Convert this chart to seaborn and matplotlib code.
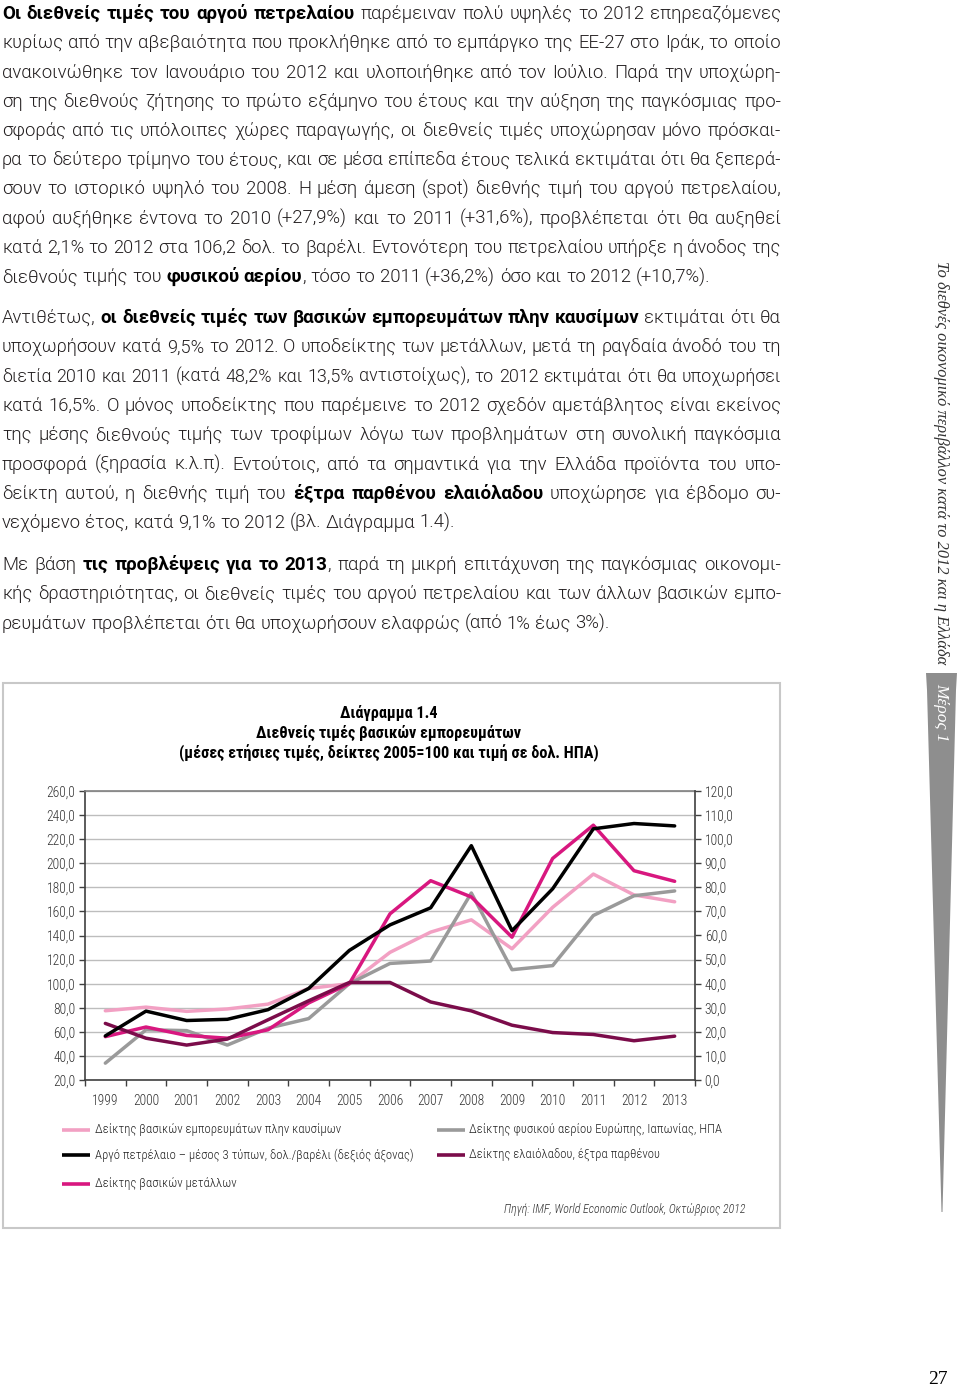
import numpy as np
import pandas as pd
import matplotlib
matplotlib.use("Agg")
import matplotlib.pyplot as plt
import seaborn as sns
from matplotlib import font_manager as fm
from matplotlib.lines import Line2D
from matplotlib.patches import Rectangle, Polygon
from matplotlib.ticker import FuncFormatter

# ---------------- data ----------------
years = list(range(1999, 2014))
nonfuel = [77.5, 80.5, 77.0, 79.0, 83.0, 96.0, 100.0, 126.0, 142.8, 153.0, 129.0, 163.4, 191.0, 173.7, 168.0]
gas = [34.0, 61.7, 61.0, 49.0, 63.0, 71.0, 100.0, 116.8, 118.8, 175.3, 111.6, 115.0, 156.6, 173.0, 177.0]
metals = [56.0, 64.0, 57.0, 54.7, 61.7, 84.0, 100.0, 158.0, 185.5, 172.0, 138.6, 204.0, 231.6, 193.8, 185.0]
olive = [67.0, 54.7, 49.0, 54.0, 70.0, 85.8, 101.0, 101.0, 84.8, 77.4, 65.5, 59.4, 57.8, 52.6, 56.4]
oil = [18.3, 28.6, 24.7, 25.2, 29.2, 38.0, 53.8, 64.4, 71.5, 97.3, 62.0, 79.4, 104.3, 106.5, 105.5]

L_nonfuel = "Δείκτης βασικών εμπορευμάτων πλην καυσίμων"
L_oil = "Αργό πετρέλαιο – μέσος 3 τύπων, δολ./βαρέλι (δεξιός άξονας)"
L_metals = "Δείκτης βασικών μετάλλων"
L_gas = "Δείκτης φυσικού αερίου Ευρώπης, Ιαπωνίας, ΗΠΑ"
L_olive = "Δείκτης ελαιόλαδου, έξτρα παρθένου"

left_ticks = list(range(20, 261, 20))
right_ticks = list(range(0, 121, 10))

title_lines = ["Διάγραμμα 1.4",
               "Διεθνείς τιμές βασικών εμπορευμάτων",
               "(μέσες ετήσιες τιμές, δείκτες 2005=100 και τιμή σε δολ. ΗΠΑ)"]
source_text = "Πηγή: IMF, World Economic Outlook, Οκτώβριος 2012"
side_text = "Το διεθνές οικονομικό περιβάλλον κατά το 2012 και η Ελλάδα"
part_text = "Μέρος 1"
page_no = "27"

par1 = [
    "*Οι διεθνείς τιμές του αργού πετρελαίου* παρέμειναν πολύ υψηλές το 2012 επηρεαζόμενες",
    "κυρίως από την αβεβαιότητα που προκλήθηκε από το εμπάργκο της ΕΕ-27 στο Ιράκ, το οποίο",
    "ανακοινώθηκε τον Ιανουάριο του 2012 και υλοποιήθηκε από τον Ιούλιο. Παρά την υποχώρη-",
    "ση της διεθνούς ζήτησης το πρώτο εξάμηνο του έτους και την αύξηση της παγκόσμιας προ-",
    "σφοράς από τις υπόλοιπες χώρες παραγωγής, οι διεθνείς τιμές υποχώρησαν μόνο πρόσκαι-",
    "ρα το δεύτερο τρίμηνο του έτους, και σε μέσα επίπεδα έτους τελικά εκτιμάται ότι θα ξεπερά-",
    "σουν το ιστορικό υψηλό του 2008. Η μέση άμεση (spot) διεθνής τιμή του αργού πετρελαίου,",
    "αφού αυξήθηκε έντονα το 2010 (+27,9%) και το 2011 (+31,6%), προβλέπεται ότι θα αυξηθεί",
    "κατά 2,1% το 2012 στα 106,2 δολ. το βαρέλι. Εντονότερη του πετρελαίου υπήρξε η άνοδος της",
    "διεθνούς τιμής του *φυσικού αερίου*, τόσο το 2011 (+36,2%) όσο και το 2012 (+10,7%).",
]
par2 = [
    "Αντιθέτως, *οι διεθνείς τιμές των βασικών εμπορευμάτων πλην καυσίμων* εκτιμάται ότι θα",
    "υποχωρήσουν κατά 9,5% το 2012. Ο υποδείκτης των μετάλλων, μετά τη ραγδαία άνοδό του τη",
    "διετία 2010 και 2011 (κατά 48,2% και 13,5% αντιστοίχως), το 2012 εκτιμάται ότι θα υποχωρήσει",
    "κατά 16,5%. Ο μόνος υποδείκτης που παρέμεινε το 2012 σχεδόν αμετάβλητος είναι εκείνος",
    "της μέσης διεθνούς τιμής των τροφίμων λόγω των προβλημάτων στη συνολική παγκόσμια",
    "προσφορά (ξηρασία κ.λ.π). Εντούτοις, από τα σημαντικά για την Ελλάδα προϊόντα του υπο-",
    "δείκτη αυτού, η διεθνής τιμή του *έξτρα παρθένου ελαιόλαδου* υποχώρησε για έβδομο συ-",
    "νεχόμενο έτος, κατά 9,1% το 2012 (βλ. Διάγραμμα 1.4).",
]
par3 = [
    "Με βάση *τις προβλέψεις για το 2013*, παρά τη μικρή επιτάχυνση της παγκόσμιας οικονομι-",
    "κής δραστηριότητας, οι διεθνείς τιμές του αργού πετρελαίου και των άλλων βασικών εμπο-",
    "ρευμάτων προβλέπεται ότι θα υποχωρήσουν ελαφρώς (από 1% έως 3%).",
]

# ---------------- fonts ----------------
sns.set_style("white")


def has_font(name):
    try:
        path = fm.findfont(fm.FontProperties(family=name), fallback_to_default=False)
        return path is not None
    except Exception:
        return False


def has_light(name):
    return any(f.name == name and str(f.weight) in ("300", "light") for f in fm.fontManager.ttflist)


COND = "Roboto"
for cand in ("Roboto Condensed", "Liberation Sans Narrow", "Open Sans Condensed", "Noto Sans Condensed"):
    if has_font(cand):
        COND = cand
        break
COND_W = 300 if has_light(COND) else "normal"
REG = "Roboto"
REG_W = 300 if has_light(REG) else "normal"
SERIF = "Liberation Serif" if has_font("Liberation Serif") else "DejaVu Serif"
plt.rcParams["font.family"] = [COND, "DejaVu Sans"]

W, H = 960, 1389
fig = plt.figure(figsize=(W / 100, H / 100), dpi=100)
fig.patch.set_facecolor("white")


def fx(x):
    return x / W


def fy(y):
    return 1 - y / H


renderer = fig.canvas.get_renderer()


def prop(bold, size, italic=False):
    return fm.FontProperties(family=[COND, "DejaVu Sans"], size=size,
                             weight="bold" if bold else COND_W,
                             style="italic" if italic else "normal")


BOLD = {"fam": COND, "w": "bold", "scale": 1.0}


def bprop(bold, size):
    # body text: light regular face for normal text, a bold face for emphasis
    if bold:
        return fm.FontProperties(family=[BOLD["fam"], "DejaVu Sans"], size=size * BOLD["scale"],
                                 weight=BOLD["w"])
    return fm.FontProperties(family=[REG, "DejaVu Sans"], size=size, weight=REG_W)


def tw(s, p):
    w, h, d = renderer.get_text_width_height_descent(s, p, ismath=False)
    return w


def fit(text, width, size, bold=False, italic=False):
    return size * width / tw(text, prop(bold, size, italic))


def parse(line):
    words, cur, buf, bold = [], [], "", False
    for ch in line:
        if ch == "*":
            if buf:
                cur.append((buf, bold))
                buf = ""
            bold = not bold
        elif ch == " ":
            if buf:
                cur.append((buf, bold))
                buf = ""
            if cur:
                words.append(cur)
                cur = []
        else:
            buf += ch
    if buf:
        cur.append((buf, bold))
    if cur:
        words.append(cur)
    return words


X0, X1 = 2, 781
TEXT_COLOR = "#231f20"
BASE = 16.0


def space_w(size):
    return tw("a a", bprop(False, size)) - tw("aa", bprop(False, size))


def natural(line, size):
    words = parse(line)
    return sum(sum(tw(t, bprop(b, size)) for t, b in w) for w in words) + space_w(size) * (len(words) - 1)


fit_sizes = []
for par in (par1, par2, par3):
    for line in par[:-1]:
        if "*" not in line:
            fit_sizes.append(BASE * (X1 - X0) / natural(line, BASE))
CAP_SIZE = 16.0
global_size = min(CAP_SIZE, float(np.median(fit_sizes)) * 0.985)

# choose the bold face whose width is closest to the page (bold phrase spans ~347 px)
bold_ref = "Οι διεθνείς τιμές του αργού πετρελαίου"
best = None
for fam, wt in ((REG, 500), (REG, "bold"), (COND, "bold")):
    wd = tw(bold_ref, fm.FontProperties(family=[fam, "DejaVu Sans"], size=global_size, weight=wt))
    err = abs(np.log(347.0 / wd))
    if best is None or err < best[0]:
        best = (err, fam, wt, wd)
BOLD["fam"], BOLD["w"] = best[1], best[2]
BOLD["scale"] = float(np.clip(347.0 / best[3], 0.96, 1.04))


def draw_par(lines, y0, step):
    for i, line in enumerate(lines):
        y = y0 + i * step
        last = (i == len(lines) - 1)
        size = global_size
        if not last:
            size = min(global_size, BASE * (X1 - X0) / natural(line, BASE) * 0.995)
        words = parse(line)
        widths = [sum(tw(t, bprop(b, size)) for t, b in w) for w in words]
        if last:
            gap = space_w(size)
        else:
            gap = (X1 - X0 - sum(widths)) / (len(words) - 1)
        x = X0
        for w, wd in zip(words, widths):
            xx = x
            for t, b in w:
                p = bprop(b, size)
                fig.text(fx(xx), fy(y), t, fontproperties=p, va="baseline", ha="left",
                         color="black" if b else TEXT_COLOR)
                xx += tw(t, p)
            x += wd + gap


draw_par(par1, 19, 29.25)
draw_par(par2, 323, 29.3)
draw_par(par3, 570, 29.3)

# ---------------- chart frame & title ----------------
fig.add_artist(Rectangle((fx(3), fy(1228)), fx(780) - fx(3), fy(683) - fy(1228),
                         transform=fig.transFigure, fill=False, edgecolor="#C8C8C8", lw=1.5))
tsize = fit(title_lines[2], 422, 10.5, bold=True)
for i, t in enumerate(title_lines):
    fig.text(fx(389), fy(713 + 20 * i), t, ha="center", va="center",
             fontproperties=prop(True, tsize), color="black")

# ---------------- chart ----------------
colors = {L_nonfuel: "#F2A0C3", L_gas: "#9A9A9A", L_metals: "#D8177F", L_olive: "#7B0C4A", L_oil: "#000000"}

ax = fig.add_axes([fx(85), fy(1080), fx(695) - fx(85), fy(791) - fy(1080)])
df = pd.DataFrame({
    "year": years * 4,
    "value": nonfuel + gas + metals + olive,
    "series": [L_nonfuel] * 15 + [L_gas] * 15 + [L_metals] * 15 + [L_olive] * 15,
})
sns.lineplot(data=df, x="year", y="value", hue="series",
             hue_order=[L_nonfuel, L_gas, L_metals, L_olive],
             palette=colors, linewidth=2.5, legend=False, ax=ax)
ax2 = ax.twinx()
sns.lineplot(x=years, y=oil, color=colors[L_oil], linewidth=2.5, ax=ax2)

ax.set_xlim(1998.5, 2013.5)
ax.set_ylim(20, 260)
ax2.set_ylim(0, 120)
ax.set_yticks(left_ticks)
ax2.set_yticks(right_ticks)
fmt = FuncFormatter(lambda v, p: f"{v:.1f}".replace(".", ","))
ax.yaxis.set_major_formatter(fmt)
ax2.yaxis.set_major_formatter(fmt)
ax.set_xticks(years)
ax.set_xticklabels([str(y) for y in years])
ax.set_xticks(np.arange(1998.5, 2014.0, 1.0), minor=True)
ax.set_xlabel("")
ax.set_ylabel("")
ax2.set_ylabel("")

ax.grid(False)
ax2.grid(False)
ax.yaxis.grid(True, color="#BDBDBD", lw=1.0)
ax.set_axisbelow(True)

for a in (ax, ax2):
    for s in a.spines.values():
        s.set_color("#404040")
        s.set_linewidth(1.2)
    a.spines["top"].set_color("#808080")
ax2.spines["left"].set_visible(False)
ax2.spines["bottom"].set_visible(False)
ax2.spines["top"].set_visible(False)
ax.spines["right"].set_visible(False)

tick_size = fit("260,0", 29, 9.0)
for lbl in ax.get_xticklabels() + ax.get_yticklabels() + ax2.get_yticklabels():
    lbl.set_fontproperties(prop(False, tick_size))
ax.tick_params(axis="y", which="major", length=4, width=1, direction="out", color="#404040",
               labelcolor="#333333", pad=3, left=True)
ax2.tick_params(axis="y", which="major", length=4, width=1, direction="out", color="#404040",
                labelcolor="#333333", pad=3, right=True)
ax.tick_params(axis="x", which="major", length=0, labelcolor="#333333", pad=10)
ax.tick_params(axis="x", which="minor", length=4, width=1, direction="out", color="#404040", bottom=True)

# ---------------- legend ----------------
leg_size = fit(L_oil, 321, 9.5)
legend_items = [
    (L_nonfuel, 62, 95, 1130),
    (L_oil, 62, 95, 1155),
    (L_metals, 62, 95, 1184),
    (L_gas, 437, 469, 1130),
    (L_olive, 437, 469, 1155),
]
for lab, lx, tx, ly in legend_items:
    fig.add_artist(Line2D([fx(lx), fx(lx + 28)], [fy(ly), fy(ly)], transform=fig.transFigure,
                          color=colors[lab], lw=2.6, solid_capstyle="butt"))
    fig.text(fx(tx), fy(ly), lab, ha="left", va="center", fontproperties=prop(False, leg_size),
             color="#222222")

src_size = fit(source_text, 241, 8.5, italic=True)
fig.text(fx(745), fy(1210), source_text, ha="right", va="center",
         fontproperties=prop(False, src_size, italic=True), color="#333333")

# ---------------- sidebar ----------------
fig.text(fx(941), fy(463), side_text, rotation=270, ha="center", va="center",
         family=SERIF, style="italic", fontsize=11.8, color="#333333")
fig.add_artist(Polygon([(fx(926), fy(673)), (fx(957), fy(673)), (fx(956), fy(690)),
                        (fx(942.5), fy(1212)), (fx(941.5), fy(1212)), (fx(927), fy(690))],
                       closed=True, transform=fig.transFigure, facecolor="#8E8E8E", edgecolor="none"))
fig.text(fx(941), fy(712), part_text, rotation=270, ha="center", va="center",
         family=SERIF, style="italic", fontsize=12.5, color="white")
fig.text(fx(938), fy(1379), page_no, ha="center", va="center", family=SERIF, fontsize=14, color="black")

fig.savefig("out.png", dpi=100)
